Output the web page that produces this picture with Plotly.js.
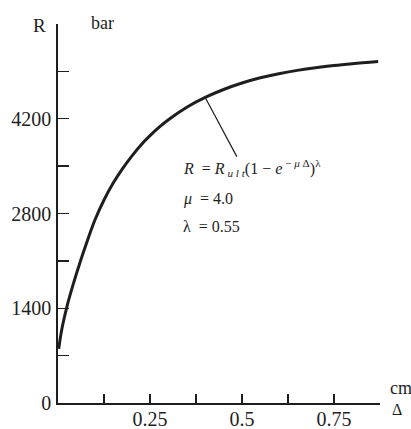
<!DOCTYPE html>
<html>
<head>
<meta charset="utf-8">
<script src="https://cdn.plot.ly/plotly-3.0.1.min.js"></script>
<style>
  html, body { margin: 0; padding: 0; background: #fff; }
  #chart { width: 411px; height: 429px; }
</style>
</head>
<body>
<div id="chart"></div>
<script>
// Resistance R (bar) against displacement Δ (cm)
const delta = [0.002, 0.01, 0.025, 0.04, 0.06, 0.08, 0.10, 0.125, 0.15, 0.175, 0.2, 0.225, 0.25, 0.275, 0.3, 0.35, 0.4, 0.45, 0.5, 0.55, 0.6, 0.65, 0.7, 0.75, 0.8, 0.87];
const resistance = [800, 1080, 1440, 1730, 2080, 2400, 2700, 3000, 3250, 3460, 3645, 3810, 3950, 4075, 4185, 4370, 4515, 4632, 4728, 4805, 4866, 4915, 4955, 4988, 5014, 5045];

// Labelled ticks and the unlabelled steps between them
const xTickVals = [0.25, 0.5, 0.75];
const xTickText = ['0.25', '0.5', '0.75'];
const xMinorVals = [0.125, 0.375, 0.625, 0.875];
const yTickVals = [0, 1400, 2800, 4200];
const yTickText = ['0', '1400', '2800', '4200'];
const yMinorVals = [700, 2100, 3500, 4900, 5600];

// Leader line: from a point on the curve to the formula block
const leaderIdx = 16;
const formulaAnchor = { x: 0.486, y: 3640 };

const ink = '#1e1e1e';
const serif = 'Liberation Serif, Times New Roman, serif';
const sp = '\u00a0';

const curve = {
  x: delta,
  y: resistance,
  type: 'scatter',
  mode: 'lines',
  line: { color: ink, width: 3, shape: 'spline', smoothing: 1 },
  hoverinfo: 'skip'
};

const leader = {
  x: [delta[leaderIdx], formulaAnchor.x],
  y: [resistance[leaderIdx], formulaAnchor.y],
  type: 'scatter',
  mode: 'lines',
  line: { color: ink, width: 1.2 },
  hoverinfo: 'skip'
};

const axisCommon = {
  showgrid: false,
  zeroline: false,
  showline: true,
  linecolor: ink,
  linewidth: 1.8,
  ticks: 'inside',
  tickcolor: ink,
  tickwidth: 1.4,
  tickmode: 'array',
  tickfont: { family: serif, size: 20, color: ink },
  fixedrange: true
};

const formulaFont = { family: serif, size: 16, color: ink };

const layout = {
  width: 411,
  height: 429,
  margin: { l: 58, r: 31, t: 24, b: 26 },
  paper_bgcolor: '#fff',
  plot_bgcolor: '#fff',
  showlegend: false,
  font: { family: serif, color: ink },
  xaxis: Object.assign({}, axisCommon, {
    range: [0, 0.875],
    tickvals: xTickVals,
    ticktext: xTickText,
    ticklen: 9,
    ticklabelstandoff: -3,
    minor: { tickmode: 'array', tickvals: xMinorVals, ticks: 'inside', ticklen: 9, tickwidth: 1.4, tickcolor: ink, showgrid: false }
  }),
  yaxis: Object.assign({}, axisCommon, {
    range: [0, 5600],
    tickvals: yTickVals,
    ticktext: yTickText,
    ticklen: 11,
    ticklabelstandoff: 1,
    minor: { tickmode: 'array', tickvals: yMinorVals, ticks: 'inside', ticklen: 11, tickwidth: 1.4, tickcolor: ink, showgrid: false }
  }),
  annotations: [
    // axis names and units
    { xref: 'paper', yref: 'paper', x: -0.056, y: 0.997, text: 'R', showarrow: false,
      font: { family: serif, size: 19, color: ink }, xanchor: 'center', yanchor: 'middle' },
    { xref: 'paper', yref: 'paper', x: 0.137, y: 1.003, text: 'bar', showarrow: false,
      font: { family: serif, size: 18, color: ink }, xanchor: 'center', yanchor: 'middle' },
    { xref: 'paper', yref: 'paper', x: 1.025, y: 0.04, text: 'cm', showarrow: false,
      font: { family: serif, size: 18, color: ink }, xanchor: 'left', yanchor: 'middle' },
    { xref: 'paper', yref: 'paper', x: 1.053, y: -0.018, text: 'Δ', showarrow: false,
      font: { family: serif, size: 16, color: ink }, xanchor: 'center', yanchor: 'middle' },
    // formula block
    { xref: 'paper', yref: 'paper', x: 0.383, y: 0.62, xanchor: 'left', yanchor: 'middle', showarrow: false,
      text: '<i>R</i>' + sp + sp + '=' + sp + '<i>R</i><sub>' + sp + '<i>u' + sp + 'l' + sp + 't</i></sub>(1' + sp + '−' + sp +
            '<i>e</i><sup>' + sp + '−' + sp + '<i>μ</i>' + sp + 'Δ</sup>)<sup>λ</sup>',
      font: formulaFont },
    { xref: 'paper', yref: 'paper', x: 0.383, y: 0.538, xanchor: 'left', yanchor: 'middle', showarrow: false,
      text: '<i>μ</i>' + sp + sp + '= 4.0', font: formulaFont },
    { xref: 'paper', yref: 'paper', x: 0.383, y: 0.466, xanchor: 'left', yanchor: 'middle', showarrow: false,
      text: 'λ' + sp + sp + '= 0.55', font: formulaFont }
  ]
};

Plotly.newPlot('chart', [curve, leader], layout, { displayModeBar: false, staticPlot: true });
</script>
</body>
</html>
